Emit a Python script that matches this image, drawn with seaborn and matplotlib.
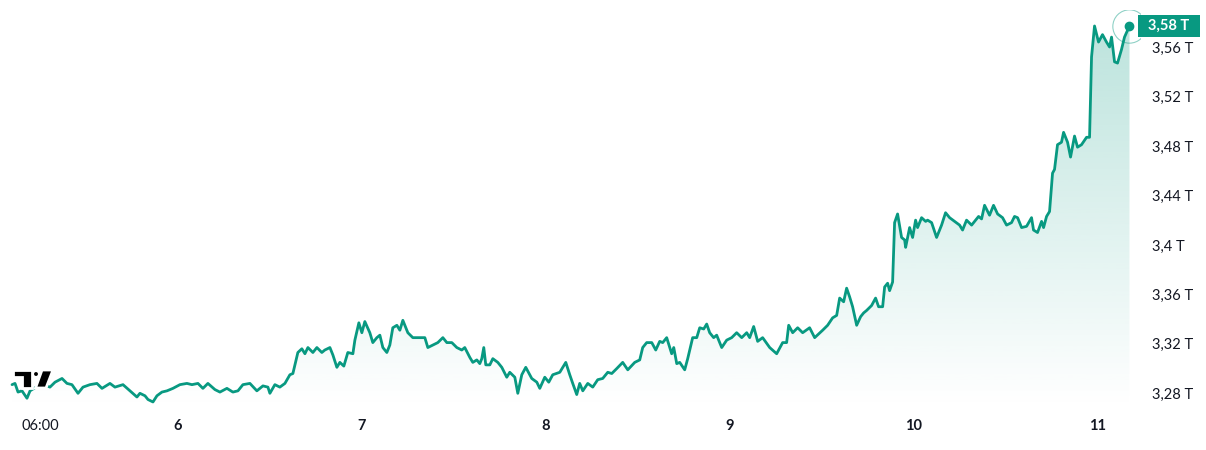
import numpy as np
import pandas as pd
import matplotlib
matplotlib.use("Agg")
import matplotlib.pyplot as plt
import matplotlib.transforms as mtransforms
from matplotlib.patches import Polygon, Circle, Rectangle
import seaborn as sns

# ---------------------------
# DATA (hours since day 5 00:00, value in T)
# ---------------------------
hours = [
    2.35, 2.74, 3.13, 3.65, 4.30, 4.70, 5.74, 6.52, 7.30, 7.96, 8.87, 9.52, 10.17, 10.96,
    11.61, 12.52, 13.43, 14.09, 15.13, 15.78, 16.83, 17.74, 18.65, 19.04, 19.70, 20.09,
    20.74, 21.26, 21.91, 22.57, 23.35, 24.26, 25.17, 25.83, 26.61, 27.26, 27.91, 28.83,
    29.48, 30.39, 31.17, 31.83, 32.48, 33.39, 34.30, 35.09, 35.74, 36.00, 36.65, 37.30,
    37.96, 38.61, 39.00, 39.65, 40.17, 40.57, 40.96, 41.61, 42.13, 42.78, 43.17, 43.83,
    44.22, 44.74, 45.13, 45.65, 46.17, 46.83, 47.09, 47.61, 48.00, 48.39, 49.04, 49.43,
    49.96, 50.35, 50.74, 51.26, 51.65, 52.04, 52.57, 52.96, 53.35, 54.00, 54.65, 55.57,
    56.22, 56.61, 57.26, 57.91, 58.57, 59.09, 59.74, 60.39, 61.04, 61.43, 62.09, 62.48,
    63.00, 63.39, 63.65, 63.91, 64.17, 64.70, 65.09, 65.74, 66.26, 66.91, 67.30, 67.96,
    68.35, 68.87, 69.39, 70.17, 70.83, 71.22, 71.87, 72.39, 72.91, 73.83, 74.61, 75.13,
    75.52, 76.04, 76.43, 76.83, 77.48, 78.13, 78.78, 79.43, 80.09, 80.61, 81.26, 82.04,
    82.70, 83.61, 84.26, 84.65, 85.17, 85.83, 86.35, 86.87, 87.26, 87.78, 88.43, 88.70,
    89.09, 89.48, 90.13, 90.52, 91.17, 91.70, 92.09, 92.61, 93.00, 93.39, 93.91, 94.30,
    94.96, 95.61, 96.26, 96.91, 97.57, 98.22, 98.61, 99.13, 99.65, 100.30, 101.22, 102.13,
    102.91, 103.43, 103.70, 104.22, 104.87, 105.52, 106.43, 107.09, 108.13, 108.78, 109.43,
    109.96, 110.35, 110.87, 111.26, 111.65, 112.04, 112.57, 113.09, 113.48, 113.87, 114.52,
    115.04, 115.43, 115.96, 116.22, 116.61, 116.87, 117.26, 117.52, 117.91, 118.43, 118.83,
    118.96, 119.48, 119.87, 120.26, 120.52, 121.04, 121.57, 121.83, 122.35, 123.00, 123.65,
    124.17, 124.70, 125.35, 126.00, 126.39, 126.91, 127.57, 128.09, 128.48, 128.87, 129.26,
    129.91, 130.43, 130.96, 131.61, 132.13, 132.78, 133.17, 133.57, 134.09, 134.74, 135.39,
    135.65, 136.17, 136.70, 136.96, 137.35, 137.74, 138.13, 138.39, 138.78, 139.30, 139.57,
    140.09, 140.48, 141.00, 141.39, 141.91, 142.57, 142.96, 143.22, 143.61, 144.13, 144.65,
    145.17, 145.57, 145.83, 146.22, 146.61, 147.13, 147.52, 148.17,
]
values = [
    3.287, 3.288, 3.281, 3.282, 3.276, 3.282, 3.286, 3.287, 3.285, 3.289, 3.292, 3.288, 3.287, 3.280,
    3.285, 3.287, 3.288, 3.284, 3.288, 3.285, 3.287, 3.282, 3.277, 3.280, 3.278, 3.275,
    3.273, 3.278, 3.281, 3.282, 3.284, 3.287, 3.288, 3.287, 3.288, 3.284, 3.288, 3.283,
    3.281, 3.284, 3.281, 3.282, 3.287, 3.288, 3.282, 3.286, 3.285, 3.280, 3.287, 3.285,
    3.288, 3.295, 3.296, 3.313, 3.316, 3.312, 3.317, 3.313, 3.317, 3.313, 3.315, 3.317,
    3.311, 3.301, 3.305, 3.302, 3.313, 3.312, 3.323, 3.337, 3.329, 3.338, 3.329, 3.321,
    3.325, 3.327, 3.317, 3.313, 3.319, 3.333, 3.335, 3.331, 3.339, 3.329, 3.325, 3.325,
    3.325, 3.317, 3.319, 3.321, 3.325, 3.321, 3.321, 3.317, 3.315, 3.317, 3.309, 3.305,
    3.307, 3.304, 3.308, 3.317, 3.303, 3.303, 3.308, 3.305, 3.301, 3.293, 3.297, 3.293,
    3.280, 3.295, 3.301, 3.292, 3.289, 3.284, 3.293, 3.289, 3.295, 3.297, 3.305, 3.295,
    3.288, 3.279, 3.288, 3.282, 3.288, 3.285, 3.291, 3.292, 3.297, 3.296, 3.300, 3.305,
    3.299, 3.305, 3.307, 3.317, 3.321, 3.321, 3.315, 3.322, 3.321, 3.325, 3.312, 3.317,
    3.304, 3.305, 3.299, 3.308, 3.325, 3.325, 3.333, 3.332, 3.336, 3.329, 3.325, 3.327,
    3.317, 3.323, 3.325, 3.329, 3.325, 3.329, 3.325, 3.334, 3.322, 3.325, 3.317, 3.312,
    3.321, 3.321, 3.335, 3.329, 3.333, 3.329, 3.333, 3.325, 3.331, 3.335, 3.341,
    3.343, 3.357, 3.354, 3.365, 3.358, 3.350, 3.335, 3.342, 3.345, 3.347, 3.351,
    3.357, 3.350, 3.350, 3.366, 3.369, 3.363, 3.370, 3.418, 3.425, 3.406, 3.404,
    3.398, 3.414, 3.406, 3.420, 3.414, 3.422, 3.419, 3.420, 3.418, 3.406, 3.416,
    3.426, 3.422, 3.419, 3.416, 3.412, 3.420, 3.416, 3.420, 3.423, 3.421, 3.432,
    3.424, 3.432, 3.425, 3.422, 3.416, 3.418, 3.423, 3.422, 3.414, 3.415, 3.422,
    3.412, 3.410, 3.419, 3.414, 3.423, 3.427, 3.458, 3.461, 3.481, 3.483, 3.491,
    3.483, 3.471, 3.488, 3.479, 3.481, 3.487, 3.487, 3.552, 3.577, 3.564, 3.570,
    3.564, 3.560, 3.568, 3.548, 3.547, 3.558, 3.568, 3.577,
]

x_tick_pos = [6, 24, 48, 72, 96, 120, 144]
x_tick_labels = ["06:00", "6", "7", "8", "9", "10", "11"]
y_tick_pos = [3.28, 3.32, 3.36, 3.40, 3.44, 3.48, 3.52, 3.56]
y_tick_labels = ["3,28 T", "3,32 T", "3,36 T", "3,4 T", "3,44 T", "3,48 T", "3,52 T", "3,56 T"]
last_label = "3,58 T"

GREEN = "#089981"
TEXT = "#131722"

# ---------------------------
# FIGURE
# ---------------------------
sns.set_theme(style="white")
plt.rcParams["font.family"] = ["Lato", "DejaVu Sans"]

fig = plt.figure(figsize=(12.06, 4.5), dpi=100)
ax = fig.add_axes([0.0, 0.093, 0.945, 0.885])

df = pd.DataFrame({"hour": hours, "value": values})
sns.lineplot(data=df, x="hour", y="value", ax=ax, color=GREEN, linewidth=2.0, zorder=3)

y_low, y_high = 3.268, 3.590
ax.set_xlim(0.78, 149.5)
ax.set_ylim(y_low, y_high)

# gradient area under the line
top = max(values)
grad = np.zeros((256, 1, 4))
rgb = matplotlib.colors.to_rgb(GREEN)
grad[:, 0, 0], grad[:, 0, 1], grad[:, 0, 2] = rgb
grad[:, 0, 3] = np.linspace(0.0, 0.27, 256)
img = ax.imshow(grad, extent=[hours[0], hours[-1], y_low, top], origin="lower",
                aspect="auto", zorder=1, interpolation="bicubic")
verts = [(hours[0], y_low)] + list(zip(hours, values)) + [(hours[-1], y_low)]
clip = Polygon(verts, closed=True, transform=ax.transData, facecolor="none", edgecolor="none")
ax.add_patch(clip)
img.set_clip_path(clip)

# end point marker
ax.plot([hours[-1]], [values[-1]], marker="o", ms=6, color=GREEN, zorder=5)
ax.plot([hours[-1]], [values[-1]], marker="o", ms=24, mfc="none", mec=GREEN,
        mew=0.8, alpha=0.45, zorder=4)

# axes styling
for s in ax.spines.values():
    s.set_visible(False)
ax.grid(False)
ax.set_xlabel("")
ax.set_ylabel("")
ax.yaxis.tick_right()
ax.set_yticks(y_tick_pos)
ax.set_yticklabels(y_tick_labels)
ax.set_xticks(x_tick_pos)
ax.set_xticklabels(x_tick_labels)
ax.tick_params(axis="y", length=0, pad=9, labelsize=10.5, labelcolor=TEXT)
ax.tick_params(axis="x", length=0, pad=8, labelsize=10.5, labelcolor=TEXT)
for lbl in ax.get_xticklabels()[1:]:
    lbl.set_fontweight("bold")

# last value tag
blend = mtransforms.blended_transform_factory(ax.transAxes, ax.transData)
tag_h = 0.0172
ax.add_patch(Rectangle((0.9985, values[-1] - tag_h / 2), 0.0545, tag_h, transform=blend,
                       facecolor=GREEN, edgecolor="none", clip_on=False, zorder=10))
ax.text(1.0255, values[-1], last_label, transform=blend, ha="center", va="center",
        color="white", fontsize=10.5, fontweight="bold", clip_on=False, zorder=11)

# TradingView logo on an overlay in pixel coordinates (origin top-left)
ov = fig.add_axes([0, 0, 1, 1], zorder=30)
ov.set_xlim(0, 1206)
ov.set_ylim(450, 0)
ov.axis("off")
ov.patch.set_alpha(0)
logo_kw = dict(facecolor="#000000", edgecolor="white", linewidth=2.0)
ov.add_patch(Polygon([(13, 370), (32, 370), (32, 388), (22, 388), (22, 377), (13, 377)],
                     closed=True, **logo_kw))
ov.add_patch(Polygon([(42, 370), (53, 370), (46, 388), (35.5, 388)], closed=True, **logo_kw))
ov.add_patch(Circle((36, 374), 3.0, facecolor="#000000", edgecolor="white", linewidth=1.5))

fig.savefig("out.png", dpi=100)
